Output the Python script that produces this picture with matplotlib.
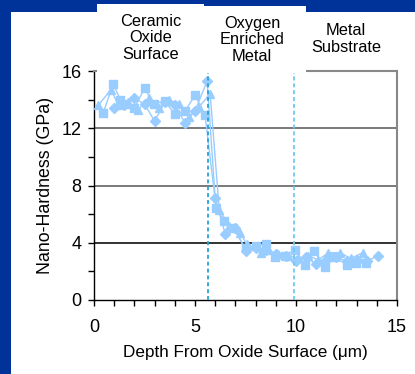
import matplotlib
matplotlib.use("Agg")
import matplotlib.pyplot as plt
from matplotlib.patches import Rectangle
from matplotlib.ticker import MultipleLocator

plt.rcParams['font.family'] = ['Liberation Sans', 'DejaVu Sans']

# ---- data ----
diamond_x = [1.0, 1.5, 2.0, 2.5, 3.0, 3.5, 4.0, 4.5, 5.0, 5.6, 6.0, 6.5, 7.0, 7.5, 8.0, 8.5,
             9.0, 9.5, 10.0, 10.5, 11.0, 11.5, 12.0, 12.5, 13.0, 13.5, 14.05]
diamond_y = [13.4, 13.6, 14.1, 13.7, 12.5, 13.8, 13.6, 12.4, 13.2, 15.3, 7.1, 4.6, 5.0, 3.4,
             3.6, 3.5, 3.2, 3.1, 2.7, 3.0, 2.5, 2.8, 3.0, 2.7, 2.8, 2.7, 3.1]
square_x = [0.45, 0.95, 1.3, 1.6, 2.0, 2.5, 2.95, 3.5, 4.0, 4.5, 5.0, 5.5, 6.05, 6.45, 6.9,
            7.5, 8.0, 8.5, 8.95, 9.45, 9.95, 10.45, 10.9, 11.45, 11.95, 12.5, 12.95, 13.45]
square_y = [13.05, 15.1, 14.0, 13.7, 13.4, 14.8, 13.7, 13.9, 13.0, 13.2, 14.3, 12.9, 6.4, 5.5,
            5.0, 3.6, 3.8, 3.9, 3.0, 3.1, 3.5, 2.45, 3.4, 2.3, 3.0, 2.45, 2.6, 2.6]
triangle_x = [0.2, 0.85, 1.2, 1.7, 2.2, 2.7, 3.2, 3.7, 4.2, 4.7, 5.2, 5.75, 6.2, 6.7, 7.25,
              7.55, 8.25, 8.6, 9.1, 9.6, 10.1, 10.6, 11.1, 11.6, 12.2, 12.7, 13.3]
triangle_y = [13.6, 14.7, 13.6, 13.8, 13.3, 14.1, 13.4, 14.0, 13.7, 12.8, 13.5, 14.4, 6.3, 5.2,
              4.7, 3.9, 3.3, 3.5, 3.2, 3.1, 2.9, 3.1, 2.8, 3.3, 3.3, 2.9, 3.3]
boundaries = [5.65, 9.9]
region_labels = ["Ceramic\nOxide\nSurface", "Oxygen\nEnriched\nMetal", "Metal\nSubstrate"]
x_ticks = [0, 5, 10, 15]
y_ticks = [0, 4, 8, 12, 16]

W, H = 415, 374
fig = plt.figure(figsize=(W / 100, H / 100), dpi=100, facecolor='#003399')

def fx(px):
    return px / W

def fy(py):
    return 1 - py / H

# white panel
fig.patches.append(Rectangle((fx(11), 0), fx(415) - fx(11), fy(12), transform=fig.transFigure,
                             facecolor='white', edgecolor='none', zorder=-1))

ax = fig.add_axes([fx(94), fy(300), fx(397) - fx(94), fy(71) - fy(300)])
ax.set_facecolor('white')

col = '#99CCFF'
ax.plot(diamond_x, diamond_y, marker='D', ms=5, color=col, lw=1, zorder=3)
ax.plot(square_x, square_y, marker='s', ms=5.5, color=col, lw=1, zorder=3)
ax.plot(triangle_x, triangle_y, marker='^', ms=6, color=col, lw=1, zorder=3)

for yv, c in [(4, '#222222'), (8, '#6e6e6e'), (12, '#6e6e6e')]:
    ax.axhline(yv, color=c, lw=1.3, zorder=1)

ax.axvline(boundaries[0], color='#2AA3D8', lw=1.3, ls=(0, (2.2, 1.6)), zorder=4)
ax.axvline(boundaries[1], color='#6CCBEA', lw=1.3, ls=(0, (2.2, 1.6)), zorder=4)

ax.set_xlim(0, 15)
ax.set_ylim(0, 16)
ax.set_xticks(x_ticks)
ax.set_yticks(y_ticks)
ax.xaxis.set_minor_locator(MultipleLocator(1))
ax.yaxis.set_minor_locator(MultipleLocator(2))
ax.tick_params(axis='x', which='both', direction='out', length=4, width=1, pad=10, labelsize=13)
ax.tick_params(axis='y', which='both', direction='out', length=4, width=1, pad=5, labelsize=13)

for s in ['left', 'bottom']:
    ax.spines[s].set_color('black')
    ax.spines[s].set_linewidth(1)
for s in ['top', 'right']:
    ax.spines[s].set_color('#888888')
    ax.spines[s].set_linewidth(1.5)

ax.set_xlabel('Depth From Oxide Surface (μm)', fontsize=12.3)
ax.xaxis.label.set_va('center')
ax.xaxis.set_label_coords(0.5, -(353 - 300) / 229)
ax.set_ylabel('Nano-Hardness (GPa)', fontsize=12.8)
ax.yaxis.label.set_va('center')
ax.yaxis.set_label_coords((45 - 94) / 303, 0.5)

# white label boxes covering the top
for x0, x1, y0 in [(97, 204, 4), (204, 306, 6)]:
    fig.patches.append(Rectangle((fx(x0), fy(72.5)), fx(x1) - fx(x0), fy(y0) - fy(72.5),
                                 transform=fig.transFigure, facecolor='white',
                                 edgecolor='none', zorder=5))

for (cx, cy), lab in zip([(150.5, 38), (252, 40), (346, 39)], region_labels):
    fig.text(fx(cx), fy(cy), lab, ha='center', va='center', fontsize=11.8,
             linespacing=1.15, zorder=6)

fig.savefig('out.png', dpi=100, facecolor=fig.get_facecolor())
